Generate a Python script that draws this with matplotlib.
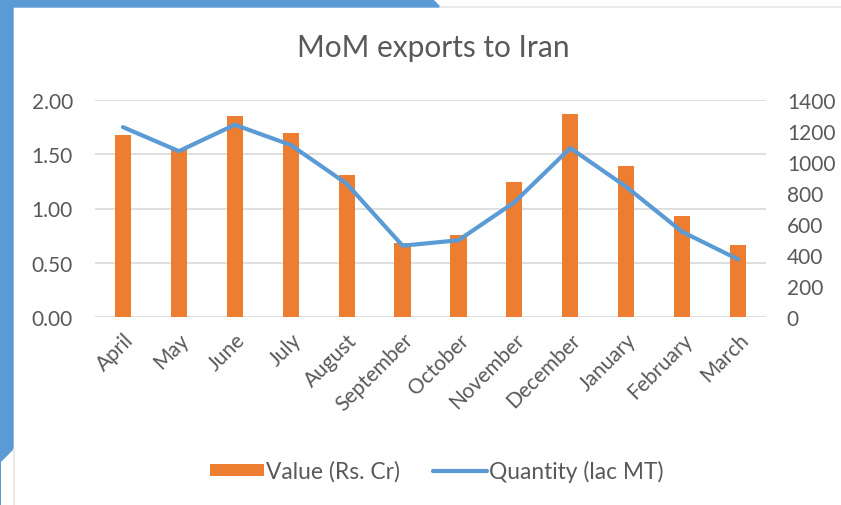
import matplotlib.pyplot as plt
from matplotlib.patches import Polygon
from matplotlib.lines import Line2D
import numpy as np

plt.rcParams['font.family'] = ['Lato', 'DejaVu Sans']

months = ["April", "May", "June", "July", "August", "September",
          "October", "November", "December", "January", "February", "March"]
value_cr = [1.68, 1.55, 1.85, 1.70, 1.31, 0.68, 0.76, 1.24, 1.87, 1.39, 0.93, 0.66]
quantity_lac = [1225, 1070, 1240, 1110, 860, 460, 495, 740, 1090, 840, 550, 372]

left_ticks = [0.0, 0.5, 1.0, 1.5, 2.0]
right_ticks = [0, 200, 400, 600, 800, 1000, 1200, 1400]

grey = "#595959"
orange = "#ED7D31"
blue = "#5B9BD5"

fig = plt.figure(figsize=(8.41, 5.06), dpi=100)

# blue frame decoration (left and top) and thin grey borders
fig.patches.append(Polygon([(0, 0), (0, 1), (432 / 841, 1), (440 / 841, 1 - 8 / 506),
                            (13 / 841, 1 - 8 / 506), (13 / 841, 1 - 450 / 506), (0, 1 - 463 / 506)],
                           closed=True, transform=fig.transFigure, color=blue, zorder=0))
fig.add_artist(Line2D([440 / 841, 1], [1 - 8 / 506, 1 - 8 / 506], transform=fig.transFigure,
                      color="#E6E6E6", lw=1.2))
fig.add_artist(Line2D([14 / 841, 14 / 841], [0, 1 - 450 / 506], transform=fig.transFigure,
                      color="#E6E6E6", lw=1.2))

ax = fig.add_axes([95 / 841, 188 / 506, 671 / 841, 217 / 506])
x = np.arange(len(months))
bars = ax.bar(x, value_cr, width=0.29, color=orange, zorder=2, label="Value (Rs. Cr)")
ax.set_ylim(0, 2.0)
ax.set_xlim(-0.5, len(months) - 0.5)
ax.set_yticks(left_ticks)
ax.set_yticklabels([f"{t:.2f}" for t in left_ticks])
ax.set_xticks(x)
ax.set_xticklabels(months, rotation=45, ha="right", rotation_mode="anchor")
ax.grid(axis="y", color="#D9D9D9", lw=1.2, zorder=0)
ax.set_axisbelow(True)
for s in ax.spines.values():
    s.set_visible(False)
ax.tick_params(length=0, colors=grey, labelsize=15, pad=16)
ax.tick_params(axis="x", labelsize=15, pad=9)

ax2 = ax.twinx()
line, = ax2.plot(x, quantity_lac, color=blue, lw=3, solid_capstyle="round",
                 solid_joinstyle="round", zorder=3, label="Quantity (lac MT)")
ax2.set_ylim(0, 1400)
ax2.set_yticks(right_ticks)
for s in ax2.spines.values():
    s.set_visible(False)
ax2.tick_params(length=0, colors=grey, labelsize=15, pad=15)

fig.text(433 / 841, 1 - 48 / 506, "MoM exports to Iran", ha="center", va="center",
         fontsize=21.5, color=grey)

fig.legend([bars, line], ["Value (Rs. Cr)", "Quantity (lac MT)"], loc="center",
           bbox_to_anchor=(437 / 841, 1 - 472 / 506), ncol=2, frameon=False,
           fontsize=16.4, labelcolor=grey, handlelength=2.35, handleheight=0.45,
           handletextpad=0.1, columnspacing=1.45)

fig.savefig("out.png", dpi=100)
